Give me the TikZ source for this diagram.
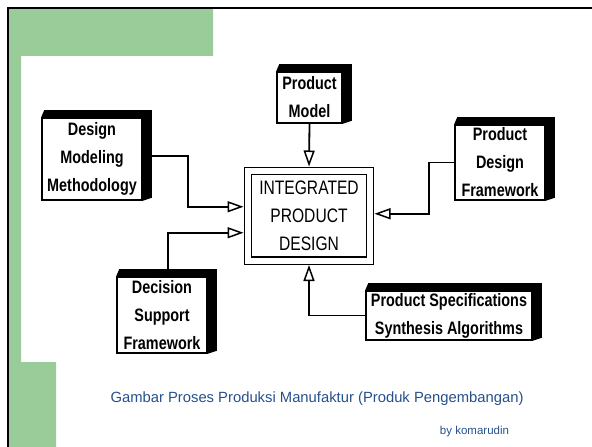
\documentclass[tikz,border=0pt]{standalone}
\usepackage{fontspec}
\setmainfont{Liberation Sans}
\newfontfamily\boxfont[FakeStretch=0.8]{Liberation Sans}
\usetikzlibrary{arrows.meta}
\definecolor{slidegreen}{RGB}{153,204,153}
\definecolor{captionblue}{RGB}{38,80,140}

\begin{document}
\begin{tikzpicture}[x=1bp,y=-1bp,
  block/.style={draw,line width=1.6bp,fill=white,inner sep=0pt,align=center,
    font=\boxfont\bfseries\fontsize{18bp}{28bp}\selectfont},
  conn/.style={line width=1.8bp,-{Triangle[open,length=16bp,width=11bp,line width=1.5bp]}}]
\useasboundingbox (0,0) rectangle (592,447);
% slide frame
\fill[slidegreen] (9,9) -- (213,9) -- (213,56) -- (21,56) -- (21,362) -- (56,362) -- (56,447) -- (9,447) -- cycle;
\draw[line width=2.5bp] (8,447) -- (8,8) -- (592,8);

% boxes
\node[block,minimum width=100bp,minimum height=82bp] (dmm) at (92,159) {Design\\Modeling\\Methodology};
\node[block,minimum width=65bp,minimum height=51bp] (pm) at (309.5,97.5) {Product\\Model};
\node[block,minimum width=90bp,minimum height=75bp] (pdf) at (500,162.5) {Product\\Design\\Framework};
\node[block,minimum width=90bp,minimum height=76bp] (dsf) at (162,315) {Decision\\Support\\Framework};
\node[block,minimum width=166bp,minimum height=49bp] (pss) at (449,315.5) {Product Specifications\\Synthesis Algorithms};
\foreach \n in {dmm,pm,pdf,dsf,pss}
  \fill (\n.north west) -- ++(3,-7) -| ([shift={(9,-3)}]\n.south east) -- (\n.south east) -- (\n.north east) -- cycle;

\node[draw,double,double distance=6bp,line width=1.4bp,minimum width=122bp,minimum height=89.5bp,
  outer sep=4.5bp,align=center,font=\boxfont\fontsize{19.5bp}{28bp}\selectfont] (ipd) at (309,215.75)
  {\raisebox{-3bp}{INTEGRATED}\\\raisebox{-3bp}{PRODUCT}\\\raisebox{-3bp}{DESIGN}};

% connectors
\draw[conn] ([yshift=3bp]dmm.east) -- ++(45,0) |- ([yshift=9bp]ipd.west);
\draw[conn] ([xshift=6bp]dsf.north) |- ([yshift=-17bp]ipd.west);
\draw[conn] (pm.south) -- (ipd.north);
\draw[conn] (pdf.west) -- ++(-25,0) |- ([yshift=2bp]ipd.east);
\draw[conn] (pss.west) -| (ipd.south);

% caption
\node[text=captionblue,font=\fontsize{14.8bp}{18bp}\selectfont] (cap) at (317,399)
  {Gambar Proses Produksi Manufaktur (Produk Pengembangan)};
\node[text=captionblue,font=\fontsize{11.5bp}{14bp}\selectfont] (by) at (474.5,432) {by komarudin};
\end{tikzpicture}
\end{document}
